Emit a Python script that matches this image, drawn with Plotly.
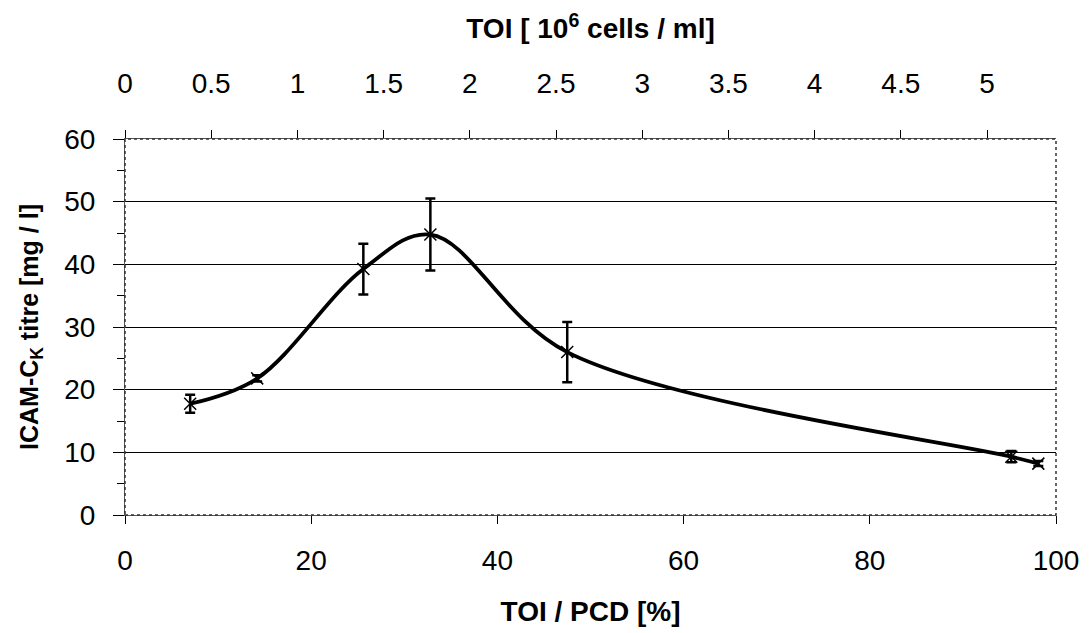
import plotly.graph_objects as go

# Data
toi_pcd = [7.0, 14.2, 25.6, 32.8, 47.5, 95.2, 98.1]
titre = [17.75, 21.8, 39.25, 44.75, 26.0, 9.3, 8.2]
titre_err = [1.45, 0.5, 4.05, 5.75, 4.8, 0.9, 0.4]

x_ticks = [0, 20, 40, 60, 80, 100]
y_ticks = [0, 10, 20, 30, 40, 50, 60]
top_range_max = 5.40  # TOI in 10^6 cells/ml at 100 %

FONT = "Liberation Sans"

fig = go.Figure()

fig.add_trace(go.Scatter(
    x=toi_pcd, y=titre,
    mode="lines+markers",
    line=dict(shape="spline", smoothing=1.0, color="black", width=3.8),
    marker=dict(symbol="x-thin", size=12, color="black",
                line=dict(width=1.5, color="black")),
    error_y=dict(type="data", array=titre_err, visible=True,
                 color="black", thickness=2.5, width=5),
    showlegend=False, hoverinfo="x+y",
))

# invisible helper trace for the top axis
fig.add_trace(go.Scatter(
    x=[0, top_range_max], y=[None, None], xaxis="x2", yaxis="y",
    mode="markers", marker=dict(opacity=0), showlegend=False, hoverinfo="skip",
))

fig.update_layout(
    width=1091, height=633,
    paper_bgcolor="white", plot_bgcolor="white",
    margin=dict(l=125, r=28, t=139, b=117),
    font=dict(family=FONT, color="black", size=28),
    xaxis=dict(
        range=[0, 100], tickvals=x_ticks,
        ticks="outside", ticklen=8, tickwidth=1, tickcolor="black",
        showline=True, linecolor="#555", linewidth=1,
        showgrid=False, zeroline=False,
        tickfont=dict(size=28, family=FONT),
        ticklabelstandoff=12,
        title=dict(text="<b>TOI / PCD [%]</b>",
                   font=dict(size=28, family=FONT), standoff=26),
    ),
    xaxis2=dict(
        range=[0, top_range_max], dtick=0.5, tick0=0,
        overlaying="x", side="top", anchor="y",
        ticks="outside", ticklen=8, tickwidth=1, tickcolor="black",
        showline=True, linecolor="#555", linewidth=1,
        showgrid=False, zeroline=False,
        tickfont=dict(size=28, family=FONT),
        ticklabelstandoff=26,
        title=dict(text="<b>TOI [ 10<sup>6</sup> cells / ml]</b>",
                   font=dict(size=28, family=FONT), standoff=20),
    ),
    yaxis=dict(
        range=[0, 60], tickvals=y_ticks,
        ticks="outside", ticklen=11, tickwidth=1, tickcolor="black",
        minor=dict(dtick=5, ticks="outside", ticklen=7, tickcolor="black", showgrid=False),
        showline=True, linecolor="#555", linewidth=1,
        showgrid=True, gridcolor="black", gridwidth=1,
        zeroline=False,
        tickfont=dict(size=28, family=FONT),
        ticklabelstandoff=12,
        title=dict(text="<b>ICAM-C<sub>K</sub> titre [mg / l]</b>",
                   font=dict(size=25, family=FONT), standoff=18),
    ),
    shapes=[dict(type="rect", xref="paper", yref="paper", x0=0, x1=1, y0=0, y1=1,
                 line=dict(color="#333", width=1.5, dash="dot"), layer="above")],
)

fig.write_html("out.html")
